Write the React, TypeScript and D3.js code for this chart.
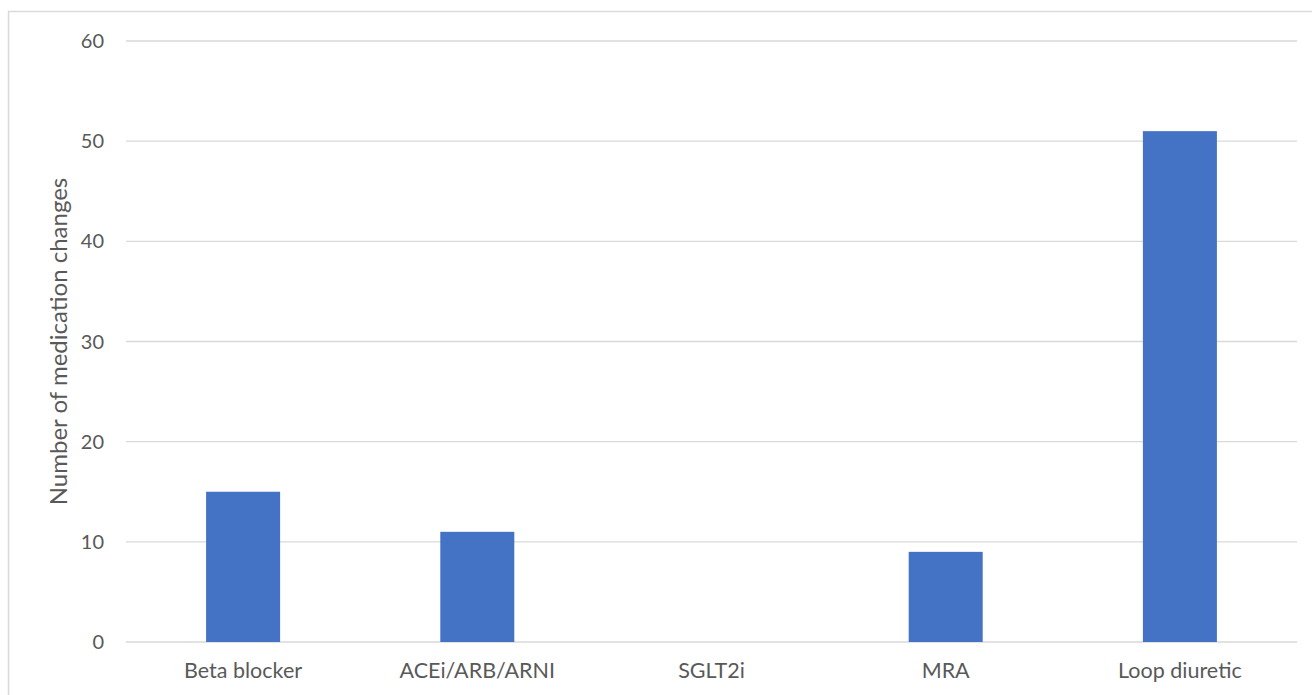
import React from "react";
import * as d3 from "d3";

const categories = ["Beta blocker", "ACEi/ARB/ARNI", "SGLT2i", "MRA", "Loop diuretic"];
const values = [15, 11, 0, 9, 51];
const yTicks = [0, 10, 20, 30, 40, 50, 60];
const yLabel = "Number of medication changes";

export default function App() {
  const W = 1312, H = 695;
  const left = 126, right = 1297, top = 41, bottom = 642;
  const x = d3.scaleBand<string>().domain(categories).range([left, right]).paddingInner(0.684).paddingOuter(0.342);
  const y = d3.scaleLinear().domain([0, 60]).range([bottom, top]);
  const font = "Lato, 'Open Sans', sans-serif";
  const textColor = "#595959";
  return (
    <svg width={W} height={H} style={{ position: "absolute", left: 0, top: 0, background: "#fff" }} fontFamily={font}>
      <rect x={8.5} y={11.5} width={1400} height={800} fill="#fff" stroke="#d9d9d9" strokeWidth={1.5} />
      {yTicks.map((t) => (
        <g key={t}>
          <line x1={left} x2={right} y1={y(t)} y2={y(t)} stroke="#d9d9d9" strokeWidth={1.3} />
          <text x={104} y={y(t)} dy="0.35em" textAnchor="end" fontSize={20} fill={textColor}>{t}</text>
        </g>
      ))}
      {categories.map((c, i) => (
        <rect key={c} x={x(c)} y={y(values[i])} width={x.bandwidth()} height={y(0) - y(values[i])} fill="#4472c4" />
      ))}
      {categories.map((c) => (
        <text key={c} x={(x(c) as number) + x.bandwidth() / 2} y={678} textAnchor="middle" fontSize={21.5} fill={textColor}>{c}</text>
      ))}
      <text transform={`translate(67,${(top + bottom) / 2}) rotate(-90)`} textAnchor="middle" fontSize={24} fill={textColor}>{yLabel}</text>
    </svg>
  );
}
